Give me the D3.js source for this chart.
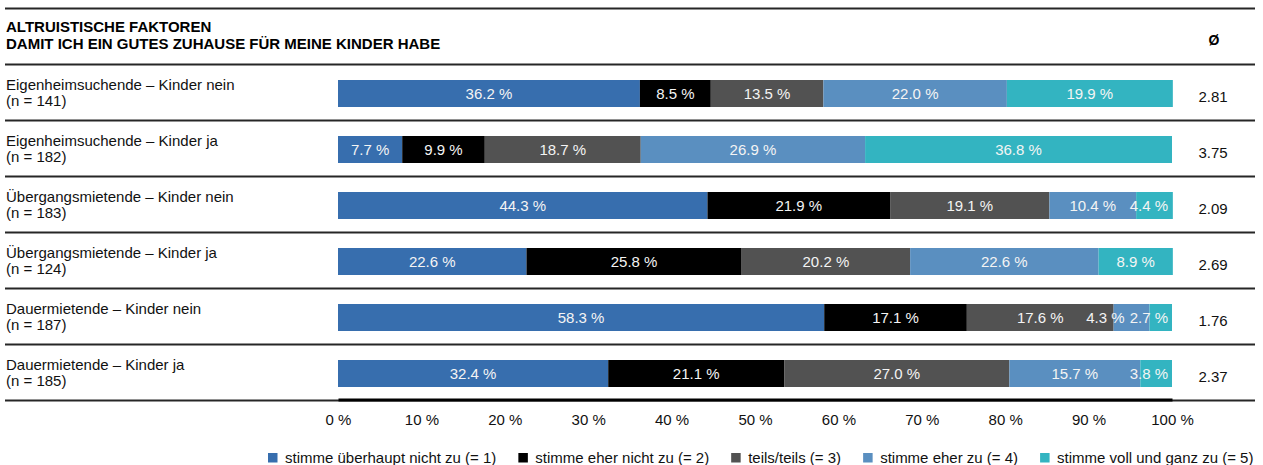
<!DOCTYPE html>
<html>
<head>
<meta charset="utf-8">
<script src="https://cdn.jsdelivr.net/npm/d3@7"></script>
<style>
  html, body { margin: 0; padding: 0; background: #fff; }
  svg { display: block; font-family: "Liberation Sans", Arial, sans-serif; }
</style>
</head>
<body>
<svg id="chart" width="1263" height="465"></svg>
<script>
// Survey groups (row labels, two lines each)
const groups = [
  "Eigenheimsuchende – Kinder nein",
  "Eigenheimsuchende – Kinder ja",
  "Übergangsmietende – Kinder nein",
  "Übergangsmietende – Kinder ja",
  "Dauermietende – Kinder nein",
  "Dauermietende – Kinder ja"
];
const sampleSizes = [141, 182, 183, 124, 187, 185];

// Answer categories
const answers = [
  "stimme überhaupt nicht zu (= 1)",
  "stimme eher nicht zu (= 2)",
  "teils/teils (= 3)",
  "stimme eher zu (= 4)",
  "stimme voll und ganz zu (= 5)"
];
const answerColors = ["#376eae", "#000000", "#525252", "#5a8fc0", "#33b4c1"];

// Shares in percent per group, in answer order
const share1 = [36.2, 7.7, 44.3, 22.6, 58.3, 32.4];
const share2 = [8.5, 9.9, 21.9, 25.8, 17.1, 21.1];
const share3 = [13.5, 18.7, 19.1, 20.2, 17.6, 27.0];
const share4 = [22.0, 26.9, 10.4, 22.6, 4.3, 15.7];
const share5 = [19.9, 36.8, 4.4, 8.9, 2.7, 3.8];

// Mean score per group
const means = ["2.81", "3.75", "2.09", "2.69", "1.76", "2.37"];

const xTicks = [0, 10, 20, 30, 40, 50, 60, 70, 80, 90, 100];

const titleLines = ["ALTRUISTISCHE FAKTOREN", "DAMIT ICH EIN GUTES ZUHAUSE FÜR MEINE KINDER HABE"];

const svg = d3.select("#chart");
const shares = [share1, share2, share3, share4, share5];
const fs = 15;

const x = d3.scaleLinear().domain([0, 100]).range([338, 1172]);
const y = d3.scaleBand().domain(groups).range([64.5, 400.5]).padding(0);
const barOffset = 15.5, barH = 27;
const lineColor = "#262626";

// Horizontal rules: top, under header and between rows
const ruleYs = [8.5].concat(groups.map(g => y(g))).concat([400.5]);
svg.append("g").selectAll("line").data(ruleYs).join("line")
  .attr("x1", 5).attr("x2", 1255)
  .attr("y1", d => d).attr("y2", d => d)
  .attr("stroke", lineColor).attr("stroke-width", 2);

// Title
svg.append("text")
  .attr("font-weight", "bold").attr("font-size", fs).attr("fill", "#000")
  .selectAll("tspan").data(titleLines).join("tspan")
  .attr("x", 6).attr("y", (d, i) => 32 + i * 17).text(d => d);

svg.append("text").attr("x", 1214).attr("y", 45)
  .attr("text-anchor", "middle").attr("font-weight", "bold").attr("font-size", 14)
  .text("Ø");

// Row labels
const rowLabels = svg.append("g").selectAll("text").data(groups).join("text")
  .attr("font-size", fs).attr("fill", "#111");
rowLabels.append("tspan").attr("x", 6).attr("y", d => y(d) + 25).text(d => d);
rowLabels.append("tspan").attr("x", 6).attr("y", d => y(d) + 41.5)
  .text((d, i) => `(n = ${sampleSizes[i]})`);

// Stacked segments
const rows = groups.map((g, gi) => {
  let acc = 0;
  return answers.map((a, ai) => {
    const v = shares[ai][gi];
    const seg = { group: g, answer: ai, value: v, x0: acc, x1: acc + v };
    acc += v;
    return seg;
  });
});

const barG = svg.append("g");
rows.forEach(segs => {
  barG.selectAll(null).data(segs).join("rect")
    .attr("x", d => x(d.x0))
    .attr("y", d => y(d.group) + barOffset)
    .attr("width", d => Math.max(0, x(d.x1) - x(d.x0)))
    .attr("height", barH)
    .attr("fill", d => answerColors[d.answer]);
});

// Segment value labels: centred, kept inside the bar end and free of overlaps
const labelG = svg.append("g").attr("font-size", fs).attr("fill", "#f4f4f4");
rows.forEach(segs => {
  const texts = labelG.selectAll(null).data(segs).join("text")
    .attr("text-anchor", "middle")
    .attr("y", d => y(d.group) + barOffset + barH / 2 + 5.2)
    .text(d => `${d.value.toFixed(1)} %`);
  const nodes = texts.nodes();
  const widths = nodes.map(n => n.getComputedTextLength());
  const centers = segs.map(d => (x(d.x0) + x(d.x1)) / 2);
  let limit = x(100) - 4;
  for (let i = segs.length - 1; i >= 0; i--) {
    if (centers[i] + widths[i] / 2 > limit) centers[i] = limit - widths[i] / 2;
    limit = centers[i] - widths[i] / 2 - 5;
  }
  texts.attr("x", (d, i) => centers[i]);
});

// Mean column
svg.append("g").selectAll("text").data(groups).join("text")
  .attr("x", 1213).attr("y", d => y(d) + 37)
  .attr("text-anchor", "middle").attr("font-size", fs).attr("fill", "#111")
  .text((d, i) => means[i]);

// X axis
const axis = svg.append("g").attr("transform", "translate(0,399.5)")
  .call(d3.axisBottom(x).tickValues(xTicks).tickSize(0).tickPadding(0)
    .tickFormat(d => `${d} %`));
axis.select(".domain").attr("stroke", "#000").attr("stroke-width", 3);
axis.selectAll(".tick text")
  .attr("font-family", "Liberation Sans, Arial, sans-serif")
  .attr("font-size", fs).attr("fill", "#111")
  .attr("dy", 0).attr("y", 25.5);

// Legend
const legend = svg.append("g");
let lx = 268;
answers.forEach((a, i) => {
  legend.append("rect").attr("x", lx).attr("y", 453).attr("width", 9.5).attr("height", 9.5)
    .attr("fill", answerColors[i]);
  const t = legend.append("text").attr("x", lx + 17).attr("y", 462.5)
    .attr("font-size", fs).attr("fill", "#111").text(a);
  lx += 17 + t.node().getComputedTextLength() + 22;
});
</script>
</body>
</html>
